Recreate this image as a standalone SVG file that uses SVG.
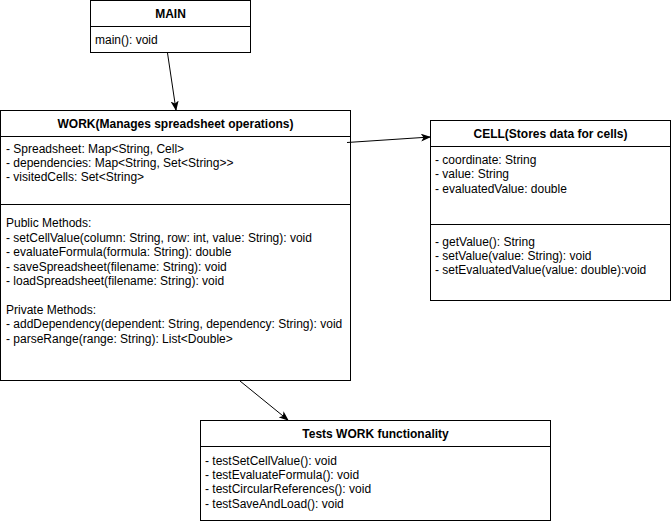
<svg xmlns="http://www.w3.org/2000/svg" width="671" height="524" viewBox="0 0 671 524">
  <style>
    .box { fill: #ffffff; stroke: #000000; stroke-width: 1; }
    .sep { stroke: #000000; stroke-width: 1; fill: none; }
    .title { font-family: "Liberation Sans", Arial, sans-serif; font-size: 12px; font-weight: bold; fill: #000000; text-anchor: middle; }
    .txt { font-family: "Liberation Sans", Arial, sans-serif; font-size: 12px; fill: #000000; }
    .edge { stroke: #000000; stroke-width: 1; fill: none; marker-end: url(#arrow); }
  </style>
  <defs>
    <marker id="arrow" markerWidth="10" markerHeight="8" refX="9" refY="4" orient="auto" markerUnits="userSpaceOnUse">
      <path d="M0,0 L10,4 L0,8 L2.5,4 Z" fill="#000000"/>
    </marker>
  </defs>

  <rect width="671" height="524" fill="#ffffff"/>

  <!-- MAIN class -->
  <g id="main">
    <rect class="box" x="90.5" y="0.5" width="160" height="52"/>
    <line class="sep" x1="90.5" y1="26.5" x2="250.5" y2="26.5"/>
    <text class="title" x="170.5" y="17.5">MAIN</text>
    <text class="txt" x="95" y="44">main(): void</text>
  </g>

  <!-- WORK class -->
  <g id="work">
    <rect class="box" x="0.5" y="110.5" width="350" height="270"/>
    <line class="sep" x1="0.5" y1="136.5" x2="350.5" y2="136.5"/>
    <line class="sep" x1="0.5" y1="204.5" x2="350.5" y2="204.5"/>
    <text class="title" x="175.5" y="128">WORK(Manages spreadsheet operations)</text>
    <text class="txt" x="6" y="152.5">- Spreadsheet: Map&lt;String, Cell&gt;</text>
    <text class="txt" x="6" y="166.5">- dependencies: Map&lt;String, Set&lt;String&gt;&gt;</text>
    <text class="txt" x="6" y="180.5">- visitedCells: Set&lt;String&gt;</text>
    <text class="txt" x="6" y="227.3">Public Methods:</text>
    <text class="txt" x="6" y="241.7">- setCellValue(column: String, row: int, value: String): void</text>
    <text class="txt" x="6" y="256.1">- evaluateFormula(formula: String): double</text>
    <text class="txt" x="6" y="270.5">- saveSpreadsheet(filename: String): void</text>
    <text class="txt" x="6" y="284.9">- loadSpreadsheet(filename: String): void</text>
    <text class="txt" x="6" y="313.7">Private Methods:</text>
    <text class="txt" x="6" y="328.1">- addDependency(dependent: String, dependency: String): void</text>
    <text class="txt" x="6" y="342.5">- parseRange(range: String): List&lt;Double&gt;</text>
  </g>

  <!-- CELL class -->
  <g id="cell">
    <rect class="box" x="430.5" y="120.5" width="240" height="180"/>
    <line class="sep" x1="430.5" y1="146.5" x2="670.5" y2="146.5"/>
    <line class="sep" x1="430.5" y1="224.5" x2="670.5" y2="224.5"/>
    <text class="title" x="550.5" y="137.5">CELL(Stores data for cells)</text>
    <text class="txt" x="435" y="164">- coordinate: String</text>
    <text class="txt" x="435" y="178.4">- value: String</text>
    <text class="txt" x="435" y="192.8">- evaluatedValue: double</text>
    <text class="txt" x="435" y="245.5">- getValue(): String</text>
    <text class="txt" x="435" y="259.9">- setValue(value: String): void</text>
    <text class="txt" x="435" y="274.3">- setEvaluatedValue(value: double):void</text>
  </g>

  <!-- Test class -->
  <g id="tests">
    <rect class="box" x="200.5" y="420.5" width="350" height="100"/>
    <line class="sep" x1="200.5" y1="446.5" x2="550.5" y2="446.5"/>
    <text class="title" x="375.5" y="438">Tests WORK functionality</text>
    <text class="txt" x="205" y="464.5">- testSetCellValue(): void</text>
    <text class="txt" x="205" y="478.9">- testEvaluateFormula(): void</text>
    <text class="txt" x="205" y="493.3">- testCircularReferences(): void</text>
    <text class="txt" x="205" y="507.7">- testSaveAndLoad(): void</text>
  </g>

  <!-- Associations -->
  <g id="connectors">
    <line class="edge" x1="167.5" y1="53" x2="176" y2="110"/>
    <line class="edge" x1="347" y1="142.5" x2="430" y2="137"/>
    <line class="edge" x1="240" y1="381" x2="288" y2="420"/>
  </g>
</svg>
